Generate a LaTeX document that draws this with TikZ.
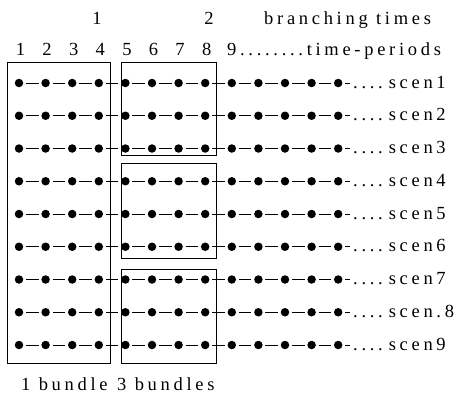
\documentclass[tikz,border=0pt]{standalone}
\usepackage{fontspec}
\setmainfont[LetterSpace=20]{Liberation Serif}
\usetikzlibrary{calc}
\tikzset{
	dot/.style={circle, fill, inner sep=0pt, minimum size=8.5pt},
	link/.style={line width=1pt, shorten <=2.5pt, shorten >=2.5pt},
	bundle/.style={line width=1pt}
}

\begin{document}
\begin{tikzpicture}[x=1pt, y=-1pt, every node/.style={font=\fontsize{18.5}{21}\selectfont, inner sep=0pt}]
			\useasboundingbox (0,0) rectangle (456,400);
			% Draw the branching times and the time-periods
			\node[anchor=base] (br1) at (97,24) {1};
			\node[anchor=base] (br2) at (209,24) {2};
			\node[anchor=base west] (brtext) at (264,24) {branching times};
			\foreach \c in {1,...,8} {
				\node[anchor=base] (tp\c) at ({19+26.6*(\c-1)+1.5},55) {\c};
			}
			\node[anchor=base west] (tptext) at (227,55) {9........time-periods};
			
			% Draw the scenarios, one row of stages each
			\foreach \r/\s in {1/scen1,2/scen2,3/scen3,4/scen4,5/scen5,6/scen6,7/scen7,8/scen.8,9/scen9} {
				\foreach \c in {1,...,13} {
					\node[dot] (d\r-\c) at ({19+26.6*(\c-1)},{83+32.75*(\r-1)}) {};
				}
				\foreach \c [evaluate=\c as \n using int(\c+1)] in {1,...,12} {
					\draw[link] (d\r-\c) -- (d\r-\n);
				}
				\coordinate (e\r) at (352,{83+32.75*(\r-1)});
				\draw[link] (d\r-13) -- (e\r);
				\node[anchor=base west] (s\r) at (353,{88+32.75*(\r-1)}) {....\hspace{6pt}\s};
			}
			
			% Highlight the bundles
			\draw[bundle] (7.3,62) rectangle (110,363);
			\draw[bundle] (121.7,62) rectangle (216.7,155.7);
			\draw[bundle] (121.7,163.3) rectangle (216.7,258.3);
			\draw[bundle] (121.7,269.3) rectangle (216.7,363);
			\node[anchor=base west] (bu1) at (21,390) {1 bundle};
			\node[anchor=base west] (bu3) at (117,390) {3 bundles};
\end{tikzpicture}
\end{document}
